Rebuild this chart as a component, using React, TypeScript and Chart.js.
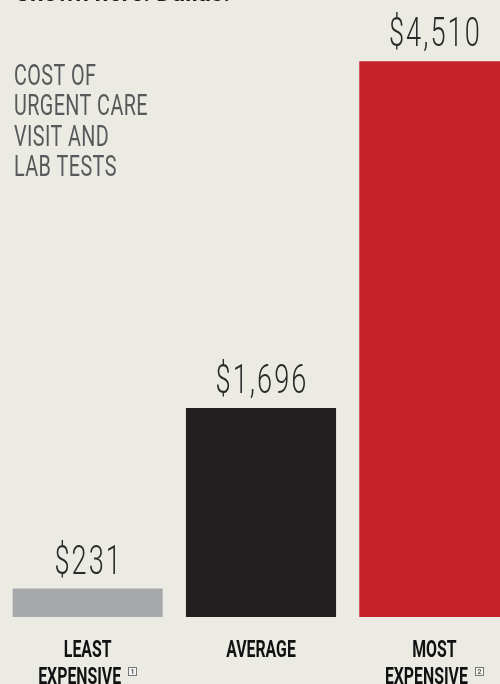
import React, { useEffect, useRef } from "react";
import { Chart, registerables } from "chart.js";

Chart.register(...registerables);

const categories: string[][] = [["LEAST", "EXPENSIVE"], ["AVERAGE"], ["MOST", "EXPENSIVE"]];
const footnotes: string[] = ["1", "", "2"];
const costs: number[] = [231, 1696, 4510];
const valueLabels: string[] = ["$231", "$1,696", "$4,510"];
const barColors: string[] = ["#a7a8ab", "#231f20", "#c5222a"];
const descriptionLines: string[] = ["COST OF", "URGENT CARE", "VISIT AND", "LAB TESTS"];
const headline = "Shown here: Dallas.";

const BG = "#ebebe4";

function drawScaled(
  ctx: CanvasRenderingContext2D,
  text: string,
  x: number,
  y: number,
  align: CanvasTextAlign,
  sx: number,
  spacing = 0
) {
  ctx.save();
  ctx.translate(x, y);
  ctx.scale(sx, 1);
  ctx.textAlign = align;
  ctx.textBaseline = "alphabetic";
  (ctx as any).letterSpacing = spacing + "px";
  const offset = align === "center" ? spacing / 2 : 0;
  ctx.fillText(text, offset, 0);
  ctx.restore();
}

const labelPlugin = {
  id: "labelPlugin",
  afterDatasetsDraw(chart: any) {
    const ctx: CanvasRenderingContext2D = chart.ctx;
    const meta = chart.getDatasetMeta(0);
    const area = chart.chartArea;

    // headline (cropped at top)
    ctx.save();
    ctx.fillStyle = "#231f20";
    ctx.font = "700 27px Roboto";
    drawScaled(ctx, headline, 15, 0.5, "left", 0.9);
    ctx.restore();

    // description
    ctx.save();
    ctx.fillStyle = "#58585a";
    ctx.font = "400 30px Roboto";
    descriptionLines.forEach((line, i) => {
      drawScaled(ctx, line, 14, 84.5 + i * 30.5, "left", 0.66, 0.6);
    });
    ctx.restore();

    meta.data.forEach((bar: any, i: number) => {
      // value label
      ctx.save();
      ctx.fillStyle = "#2a2a2a";
      ctx.font = "300 40px Roboto";
      drawScaled(ctx, valueLabels[i], bar.x, bar.y - 15, "center", 0.68, 3);
      ctx.restore();

      // category labels
      ctx.save();
      ctx.fillStyle = "#111111";
      ctx.font = "700 24px Roboto";
      const sx = 0.66;
      categories[i].forEach((line, j) => {
        const baseline = area.bottom + 40 + j * 27;
        const isLast = j === categories[i].length - 1;
        const note = isLast ? footnotes[i] : "";
        if (!note) {
          drawScaled(ctx, line, bar.x, baseline, "center", sx);
        } else {
          const w = ctx.measureText(line).width * sx;
          const gap = 7;
          const box = 9;
          const total = w + gap + box;
          const start = bar.x - total / 2;
          drawScaled(ctx, line, start, baseline, "left", sx);
          const bx = Math.round(start + w + gap);
          const by = Math.round(baseline - 17);
          ctx.save();
          ctx.fillStyle = "#f4f4f0";
          ctx.fillRect(bx, by, box, box);
          ctx.strokeStyle = "#777777";
          ctx.lineWidth = 1;
          ctx.strokeRect(bx + 0.5, by + 0.5, box - 1, box - 1);
          ctx.fillStyle = "#555555";
          ctx.font = "700 7px Roboto";
          ctx.textAlign = "center";
          ctx.textBaseline = "middle";
          ctx.fillText(note, bx + box / 2, by + box / 2 + 0.5);
          ctx.restore();
        }
      });
      ctx.restore();
    });
  },
};

export default function App() {
  const ref = useRef<HTMLCanvasElement | null>(null);

  useEffect(() => {
    if (!ref.current) return;
    const chart = new Chart(ref.current, {
      type: "bar",
      data: {
        labels: categories.map((c) => c.join(" ")),
        datasets: [
          {
            data: costs,
            backgroundColor: barColors,
            borderWidth: 0,
            barPercentage: 0.866,
            categoryPercentage: 1,
          },
        ],
      },
      options: {
        responsive: false,
        animation: false,
        devicePixelRatio: 1,
        layout: { padding: { left: 1, right: 0, top: 1, bottom: 67 } },
        plugins: {
          legend: { display: false },
          tooltip: { enabled: false },
          title: { display: false },
        },
        scales: {
          x: { display: false, grid: { display: false } },
          y: { display: false, min: 0, max: 5000, grid: { display: false } },
        },
      },
      plugins: [labelPlugin],
    });
    return () => chart.destroy();
  }, []);

  return (
    <div
      style={{
        position: "fixed",
        left: 0,
        top: 0,
        width: 500,
        height: 684,
        overflow: "hidden",
        background: BG,
      }}
    >
      <canvas ref={ref} width={521} height={684} style={{ display: "block", width: 521, height: 684 }} />
    </div>
  );
}
